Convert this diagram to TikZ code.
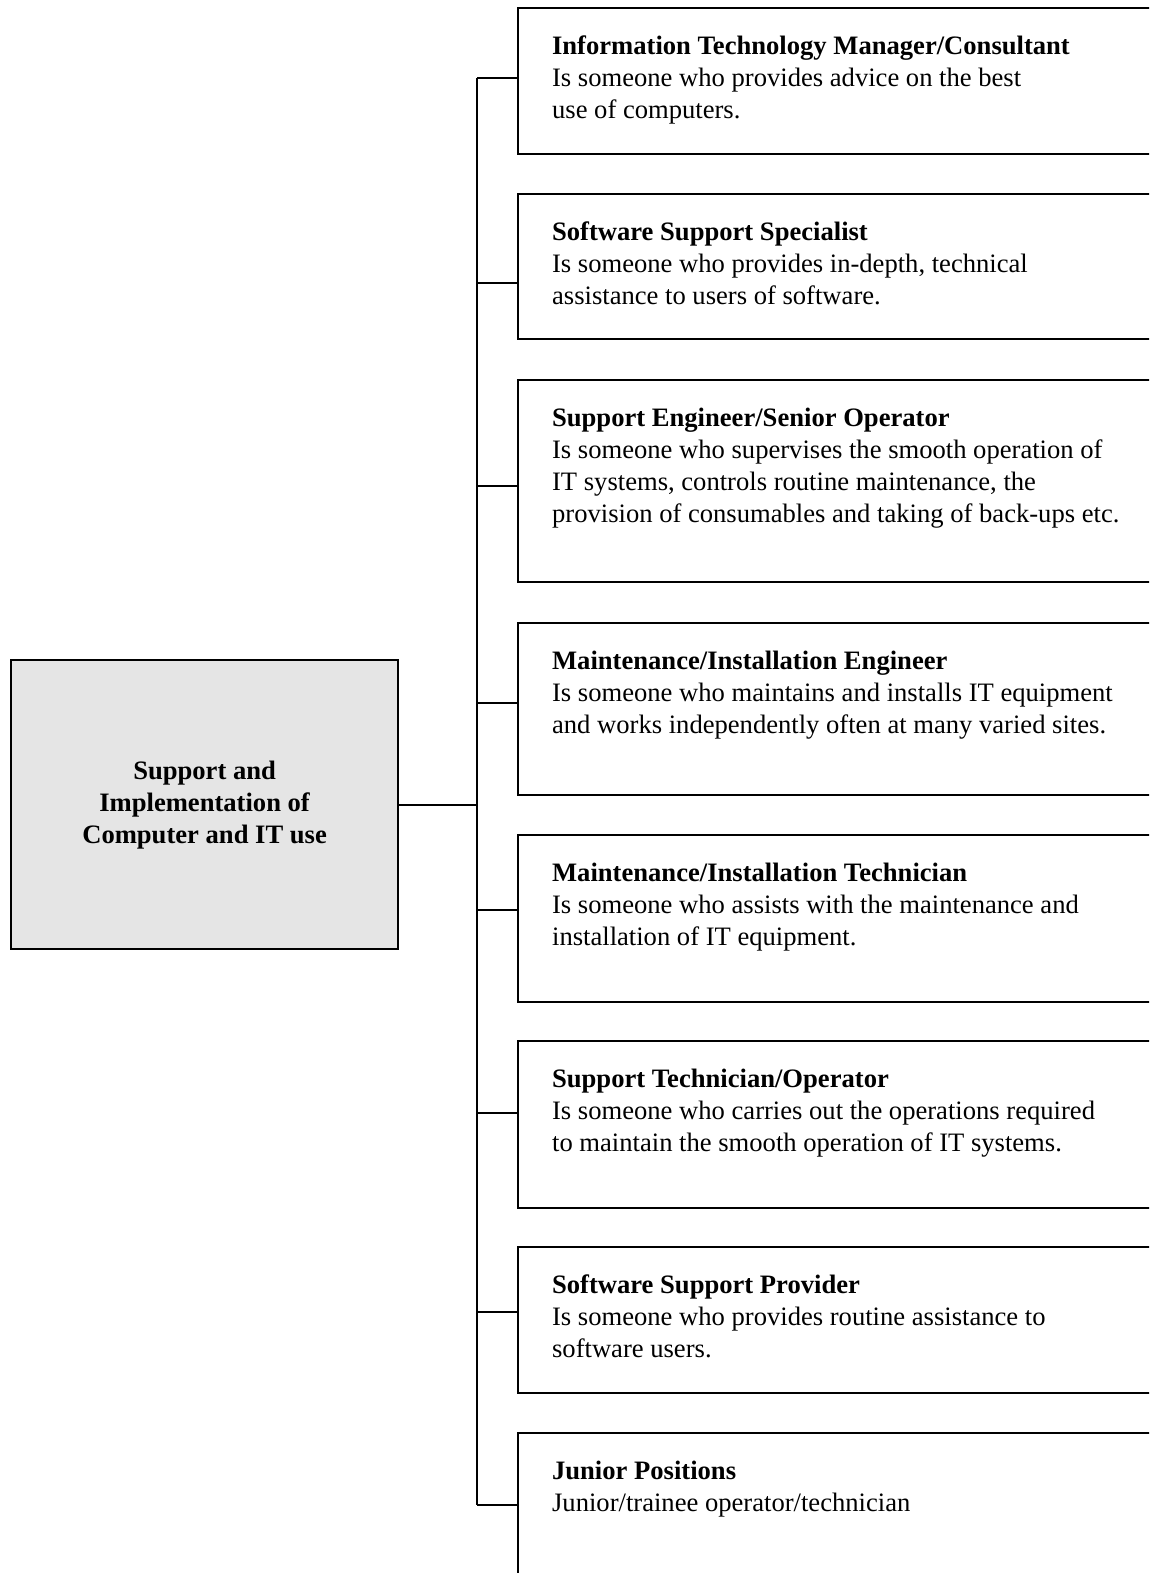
\documentclass[tikz,border=0pt]{standalone}
\usepackage{fontspec}
\setmainfont{Liberation Serif}
\usetikzlibrary{positioning}

\begin{document}
\begin{tikzpicture}[x=1pt,y=-1pt,line width=2.2pt,
      role/.style={draw, rectangle, anchor=north west, minimum width=680pt, inner sep=0pt},
      roletext/.style={anchor=north west, align=left, inner sep=0pt, font=\fontsize{26.6}{32}\selectfont}]
     \useasboundingbox (0,0) rectangle (1149,1573);
     \clip (0,0) rectangle (1149,1573);
     \node[draw, fill=gray!20, anchor=north west, minimum width=387pt, minimum height=289pt,
       align=center, font=\fontsize{26.6}{32}\selectfont\bfseries] (root) at (10,659)
       {Support and\\Implementation of\\Computer and IT use};
     \coordinate (bus) at (477,800);
     % the role boxes run out over the right edge
     \node[role, minimum height=146pt] (itm) at (517,7) {};
     \node[roletext, below right=27.5pt and 34pt of itm.north west] (itm-txt)
       {\textbf{Information Technology Manager/Consultant}\\Is someone who provides advice on the best\\use of computers.};
     \node[role, minimum height=145pt] (sss) at (517,193) {};
     \node[roletext, below right=27.5pt and 34pt of sss.north west] (sss-txt)
       {\textbf{Software Support Specialist}\\Is someone who provides in-depth, technical\\assistance to users of software.};
     \node[role, minimum height=202pt] (seng) at (517,379) {};
     \node[roletext, below right=27.5pt and 34pt of seng.north west] (seng-txt)
       {\textbf{Support Engineer/Senior Operator}\\Is someone who supervises the smooth operation of\\IT systems, controls routine maintenance, the\\provision of consumables and taking of back-ups etc.};
     \node[role, minimum height=172pt] (meng) at (517,622) {};
     \node[roletext, below right=27.5pt and 34pt of meng.north west] (meng-txt)
       {\textbf{Maintenance/Installation Engineer}\\Is someone who maintains and installs IT equipment\\and works independently often at many varied sites.};
     \node[role, minimum height=167pt] (mtech) at (517,834) {};
     \node[roletext, below right=27.5pt and 34pt of mtech.north west] (mtech-txt)
       {\textbf{Maintenance/Installation Technician}\\Is someone who assists with the maintenance and\\installation of IT equipment.};
     \node[role, minimum height=167pt] (stech) at (517,1040) {};
     \node[roletext, below right=27.5pt and 34pt of stech.north west] (stech-txt)
       {\textbf{Support Technician/Operator}\\Is someone who carries out the operations required\\to maintain the smooth operation of IT systems.};
     \node[role, minimum height=146pt] (ssp) at (517,1246) {};
     \node[roletext, below right=27.5pt and 34pt of ssp.north west] (ssp-txt)
       {\textbf{Software Support Provider}\\Is someone who provides routine assistance to\\software users.};
     \node[role, minimum height=200pt] (jun) at (517,1432) {};
     \node[roletext, below right=27.5pt and 34pt of jun.north west] (jun-txt)
       {\textbf{Junior Positions}\\Junior/trainee operator/technician};
     % where the branches meet the boxes
     \coordinate (itm-in) at (517,78);
     \coordinate (sss-in) at (517,283);
     \coordinate (seng-in) at (517,486);
     \coordinate (meng-in) at (517,703);
     \coordinate (mtech-in) at (517,910);
     \coordinate (stech-in) at (517,1113);
     \coordinate (ssp-in) at (517,1312);
     \coordinate (jun-in) at (517,1505);
     \draw (root.east) -- (root.east -| bus);
     \draw (bus |- itm-in) -- (bus |- jun-in);
     \draw (bus |- itm-in) -- (itm-in);
     \draw (bus |- sss-in) -- (sss-in);
     \draw (bus |- seng-in) -- (seng-in);
     \draw (bus |- meng-in) -- (meng-in);
     \draw (bus |- mtech-in) -- (mtech-in);
     \draw (bus |- stech-in) -- (stech-in);
     \draw (bus |- ssp-in) -- (ssp-in);
     \draw (bus |- jun-in) -- (jun-in);
    \end{tikzpicture}
\end{document}
